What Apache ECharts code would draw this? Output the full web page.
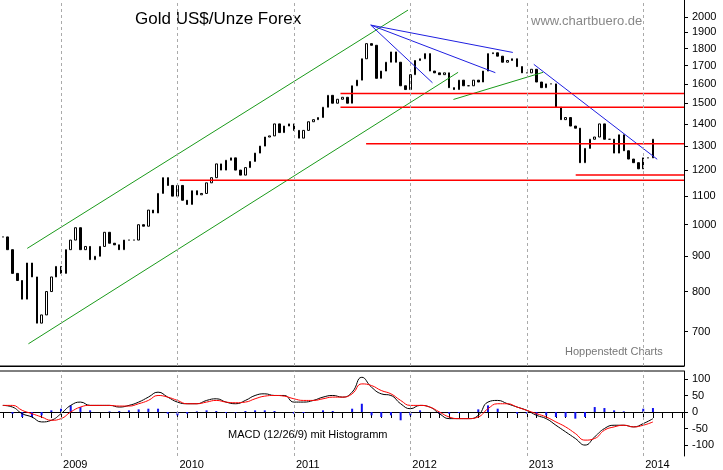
<!DOCTYPE html>
<html>
<head>
<meta charset="utf-8">
<script src="https://cdn.jsdelivr.net/npm/echarts@6/dist/echarts.min.js"></script>
<style>html,body{margin:0;padding:0;background:#fff}#c{width:723px;height:470px}</style>
</head>
<body>
<div id="c"></div>
<script>
// half-monthly closes, starting July 2008
var priceStart = 2008.5, priceStep = 1 / 24;
var closes = [
  960, 920, 850, 830, 780, 880, 840, 720, 740, 800, 840, 870,
  850, 920, 950, 990, 920, 930, 890, 900, 930, 975, 940, 935,
  920, 950, 950, 950, 1000, 995, 1050, 1040, 1110, 1170, 1140, 1100,
  1140, 1085, 1070, 1120, 1105, 1110, 1150, 1170, 1225, 1200, 1240, 1250,
  1200, 1180, 1210, 1235, 1270, 1300, 1340, 1345, 1400, 1360, 1390, 1400,
  1370, 1335, 1370, 1410, 1420, 1430, 1480, 1540, 1500, 1520, 1530, 1500,
  1590, 1620, 1740, 1830, 1820, 1630, 1670, 1720, 1780, 1720, 1590, 1570,
  1650, 1730, 1740, 1770, 1670, 1660, 1650, 1660, 1580, 1570, 1620, 1590,
  1590, 1620, 1610, 1670, 1770, 1775, 1755, 1720, 1730, 1740, 1695, 1660,
  1660, 1680, 1610, 1580, 1600, 1600, 1480, 1420, 1430, 1390, 1380, 1230,
  1290, 1330, 1340, 1400, 1330, 1330, 1270, 1350, 1280, 1245, 1230, 1205,
  1250, 1250, 1330
];
// monthly MACD values, starting July 2008
var macdStart = 2008.5, macdStep = 1 / 12;
var macdLine = [20, 15, -5, -15, -30, -25, -5, 20, 30, 20, 20, 20, 15, 20, 30, 45, 60, 45,
  30, 25, 25, 35, 40, 30, 25, 35, 50, 55, 50, 50, 30, 30, 35, 45, 50, 45, 60, 105, 75, 55, 50, 25,
  10, 20, 15, -5, -20, -20, -20, -10, 30, 35, 25, 15, 5, -10, -20, -40, -60, -80, -100, -75, -50, -40, -40, -45, -35, -20];
var signalLine = [20, 20, 5, -5, -15, -25, -20, 0, 15, 20, 20, 20, 18, 18, 25, 35, 50, 45,
  35, 25, 25, 30, 35, 30, 28, 30, 40, 48, 50, 48, 40, 35, 35, 40, 45, 45, 55, 85, 80, 65, 55, 35,
  20, 20, 15, 0, -15, -20, -20, -15, 10, 25, 25, 15, 5, -5, -15, -30, -45, -65, -85, -80, -55, -45, -40, -45, -40, -30];
var histogram = [0, -5, -15, -15, -10, 5, 10, 20, 15, 5, 0, 2, 3, 5, 8, 10, 10, -5,
  -10, -5, 2, 5, 3, -3, -2, 3, 5, 5, 3, 0, -5, -3, 0, 5, 3, 0, 10, 25, -10, -15, -10, -25,
  -10, 5, 0, -5, -5, -3, 0, 8, 20, 10, 0, -5, -5, -8, -10, -15, -15, -20, -15, 15, 12, 5, 2, 0, 10, 12];
var priceTicks = [700, 800, 900, 1000, 1100, 1200, 1300, 1400, 1500, 1600, 1700, 1800, 1900, 2000];
var macdTicks = [-100, -50, 0, 50, 100];
var years = [2009, 2010, 2011, 2012, 2013, 2014];
// trend lines: [[year, price], [year, price]]
var greenLines = [
  [[2008.71, 924], [2011.98, 2047]],
  [[2008.72, 672], [2012.41, 1663]],
  [[2012.37, 1519], [2013.14, 1663]]
];
var blueLines = [
  [[2011.66, 1947], [2012.88, 1777]],
  [[2011.66, 1947], [2012.73, 1661]],
  [[2011.66, 1947], [2012.19, 1606]],
  [[2013.06, 1708], [2014.12, 1244]]
];
// horizontal levels: [price, from year]
var redLevels = [[1550, 2011.40], [1480, 2011.40], [1310, 2011.62], [1180, 2013.42], [1160, 2010.02]];

var xMin = 2008.476, xMax = 2014.35;
var monthTicks = [];
for (var m = 2008.5; m < xMax; m += 1 / 12) monthTicks.push(+m.toFixed(4));

var candles = closes.map(function (c, i) {
  var o = i ? closes[i - 1] : c;
  return [priceStart + i * priceStep, o, c, Math.min(o, c), Math.max(o, c)];
});
var mx = function (arr) { return arr.map(function (v, i) { return [macdStart + i * macdStep, v]; }); };
var plain = function (v) { return String(Math.round(v)); };

var series = [{
  type: "candlestick", xAxisIndex: 0, yAxisIndex: 0, data: candles,
  encode: { x: 0, y: [1, 2, 3, 4] }, barWidth: 2,
  itemStyle: { color: "#fff", color0: "#000", borderColor: "#000", borderColor0: "#000", borderWidth: 1 },
  markLine: {
    silent: true, symbol: "none", label: { show: false },
    lineStyle: { color: "#aaa", type: [3, 3], width: 1 },
    data: years.map(function (y) { return { xAxis: y }; })
  }
}, {
  type: "line", xAxisIndex: 1, yAxisIndex: 1, data: [[xMin, 0]], symbol: "none", lineStyle: { width: 0 },
  markLine: {
    silent: true, symbol: "none", label: { show: false },
    lineStyle: { color: "#aaa", type: [3, 3], width: 1 },
    data: years.map(function (y) { return { xAxis: y }; })
  }
}];
greenLines.forEach(function (l) {
  series.push({ type: "line", xAxisIndex: 0, yAxisIndex: 0, data: l, symbol: "none", silent: true, lineStyle: { color: "#1a9a1a", width: 1 } });
});
blueLines.forEach(function (l) {
  series.push({ type: "line", xAxisIndex: 0, yAxisIndex: 0, data: l, symbol: "none", silent: true, lineStyle: { color: "#1f1fe0", width: 1 } });
});
redLevels.forEach(function (r) {
  series.push({ type: "line", xAxisIndex: 0, yAxisIndex: 0, data: [[r[1], r[0]], [xMax, r[0]]], symbol: "none", silent: true, lineStyle: { color: "#f00", width: 1.5 } });
});
series.push({ type: "bar", xAxisIndex: 1, yAxisIndex: 1, data: mx(histogram), barWidth: 2, itemStyle: { color: "#1010ee" } });
series.push({ type: "line", xAxisIndex: 1, yAxisIndex: 1, data: mx(macdLine), symbol: "none", smooth: true, lineStyle: { color: "#000", width: 1 } });
series.push({ type: "line", xAxisIndex: 1, yAxisIndex: 1, data: mx(signalLine), symbol: "none", smooth: true, lineStyle: { color: "#f00", width: 1 } });

var axisFont = { fontFamily: "Liberation Sans", fontSize: 11, color: "#000" };
var chart = echarts.init(document.getElementById("c"));
chart.setOption({
  animation: false,
  grid: [
    { left: 0, right: 39, top: 0, height: 366 },
    { left: 0, right: 39, top: 371, height: 85 }
  ],
  xAxis: [{
    gridIndex: 0, type: "value", min: xMin, max: xMax,
    axisLine: { show: true, lineStyle: { color: "#000" } }, axisTick: { show: false }, axisLabel: { show: false }, splitLine: { show: false }
  }, {
    gridIndex: 1, type: "value", min: xMin, max: xMax,
    axisLine: { lineStyle: { color: "#000" } },
    axisTick: { customValues: monthTicks, length: 6, lineStyle: { color: "#000" } },
    axisLabel: Object.assign({ customValues: years, align: "left", margin: 3, padding: [0, 0, 0, 2], formatter: plain }, axisFont),
    splitLine: { show: false }
  }],
  yAxis: [{
    gridIndex: 0, type: "log", position: "right", min: 624, max: 2117,
    axisLine: { show: true, lineStyle: { color: "#000" } },
    axisTick: { show: true, customValues: priceTicks, length: 4, lineStyle: { color: "#000" } },
    axisLabel: Object.assign({ customValues: priceTicks, margin: 8, formatter: plain }, axisFont),
    splitLine: { show: false }, minorTick: { show: false }
  }, {
    gridIndex: 1, type: "value", position: "right", min: -133, max: 124,
    axisLine: { show: true, lineStyle: { color: "#000" } },
    axisTick: { show: true, customValues: macdTicks, length: 4, lineStyle: { color: "#000" } },
    axisLabel: Object.assign({ customValues: macdTicks, margin: 8, formatter: plain }, axisFont),
    splitLine: { show: false }
  }],
  graphic: [
    { type: "text", left: 135, top: 11, style: { text: "Gold US$/Unze Forex", font: "17px 'Liberation Sans'", fill: "#000" } },
    { type: "text", left: 531, top: 15, style: { text: "www.chartbuero.de", font: "13px 'Liberation Sans'", fill: "#888" } },
    { type: "text", left: 565, top: 346, style: { text: "Hoppenstedt Charts", font: "11px 'Liberation Sans'", fill: "#777" } },
    { type: "text", left: 228, top: 429, style: { text: "MACD (12/26/9) mit Histogramm", font: "11px 'Liberation Sans'", fill: "#000" } },
    { type: "line", shape: { x1: 0, y1: 366, x2: 684, y2: 366 }, style: { stroke: "#000", lineWidth: 1 } },
    { type: "line", shape: { x1: 0, y1: 371, x2: 684, y2: 371 }, style: { stroke: "#000", lineWidth: 1 } }
  ],
  series: series
});
</script>
</body>
</html>
